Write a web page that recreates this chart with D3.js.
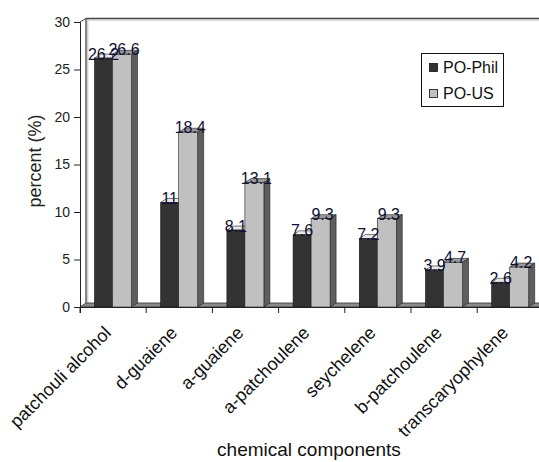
<!DOCTYPE html>
<html>
<head>
<meta charset="utf-8">
<script src="https://cdn.jsdelivr.net/npm/d3@7"></script>
<style>
  body { margin: 0; background: #fff; }
  svg { font-family: "Liberation Sans", Arial, sans-serif; }
</style>
</head>
<body>
<svg id="chart"></svg>
<script>
// data
const components = ["patchouli alcohol", "d-guaiene", "a-guaiene", "a-patchoulene",
  "seychelene", "b-patchoulene", "transcaryophylene"];
const poPhil = [26.2, 11, 8.1, 7.6, 7.2, 3.9, 2.6];
const poUS = [26.6, 18.4, 13.1, 9.3, 9.3, 4.7, 4.2];
const seriesNames = ["PO-Phil", "PO-US"];
const yTicks = [0, 5, 10, 15, 20, 25, 30];

const W = 539, H = 462;
const x0 = 80, yBase = 307, yTop = 22;
const dx = 6, dy = 4;   // 3d depth offset

const svg = d3.select("#chart").attr("width", W).attr("height", H);

const x = d3.scaleBand().domain(components).range([x0, x0 + 7 * 66.2]);
const y = d3.scaleLinear().domain([0, 30]).range([yBase, yTop]);

// back wall + left wall
const wall = svg.append("g");
wall.append("line").attr("x1", x0 + dx).attr("x2", W).attr("y1", yTop - dy + 0.5).attr("y2", yTop - dy + 0.5)
  .attr("stroke", "#444").attr("stroke-width", 1.3);
wall.append("line").attr("x1", x0 + dx + 1).attr("x2", W).attr("y1", yTop - dy + 2).attr("y2", yTop - dy + 2)
  .attr("stroke", "#bbb").attr("stroke-width", 1);
wall.append("line").attr("x1", x0 + dx).attr("x2", x0 + dx).attr("y1", yTop - dy + 0.5).attr("y2", yBase - dy)
  .attr("stroke", "#444").attr("stroke-width", 1.3);
wall.append("line").attr("x1", x0 + dx + 1.8).attr("x2", x0 + dx + 1.8).attr("y1", yTop - dy + 2).attr("y2", yBase - dy)
  .attr("stroke", "#bbb").attr("stroke-width", 1);
wall.append("line").attr("x1", x0).attr("y1", yTop).attr("x2", x0 + dx).attr("y2", yTop - dy + 0.5)
  .attr("stroke", "#444");

// floor
svg.append("polygon")
  .attr("points", [[x0, yBase], [x0 + dx, yBase - dy], [W + 10, yBase - dy], [W + 10, yBase]].join(" "))
  .attr("fill", "#8a8a8a").attr("stroke", "#333").attr("stroke-width", 0.8);

// bars
const darkOff = 14.5, darkW = 18, lightW = 19;
const bars = svg.append("g");
components.forEach((c, i) => {
  const bx = x(c) + darkOff;
  const yd = y(poPhil[i]), yl = y(poUS[i]);
  // dark bar
  bars.append("polygon")
    .attr("points", [[bx, yd], [bx + dx, yd - dy], [bx + darkW + dx, yd - dy], [bx + darkW, yd]].join(" "))
    .attr("fill", "#e8e8e8").attr("stroke", "#222").attr("stroke-width", 0.6);
  bars.append("rect").attr("x", bx).attr("y", yd).attr("width", darkW).attr("height", yBase - yd)
    .attr("fill", "#333").attr("stroke", "#111").attr("stroke-width", 0.6);
  // light bar
  const lx = bx + darkW;
  bars.append("polygon")
    .attr("points", [[lx, yl], [lx + dx, yl - dy], [lx + lightW + dx, yl - dy], [lx + lightW, yl]].join(" "))
    .attr("fill", "#9a9a9a").attr("stroke", "#222").attr("stroke-width", 0.6);
  bars.append("polygon")
    .attr("points", [[lx + lightW, yl], [lx + lightW + dx, yl - dy], [lx + lightW + dx, yBase - dy], [lx + lightW, yBase]].join(" "))
    .attr("fill", "#5e5e5e").attr("stroke", "#222").attr("stroke-width", 0.6);
  bars.append("rect").attr("x", lx).attr("y", yl).attr("width", lightW).attr("height", yBase - yl)
    .attr("fill", "#c0c0c0").attr("stroke", "#222").attr("stroke-width", 0.6);
});

// value labels
const lab = svg.append("g").attr("font-size", 16).attr("fill", "#111133").attr("text-anchor", "middle");
components.forEach((c, i) => {
  const bx = x(c) + darkOff;
  lab.append("text").attr("x", bx + darkW / 2).attr("y", y(poPhil[i]) + 1.5).text(poPhil[i]);
  lab.append("text").attr("x", bx + darkW + lightW / 2 + 2).attr("y", y(poUS[i]) + 1).text(poUS[i]);
});

// axes
const yAxis = svg.append("g").attr("transform", `translate(${x0},0)`)
  .call(d3.axisLeft(y).tickValues(yTicks).tickSize(6).tickPadding(4));
yAxis.select(".domain").attr("stroke", "#222");
yAxis.selectAll(".tick line").attr("stroke", "#222");
yAxis.selectAll("text").attr("font-size", 14).attr("fill", "#222").attr("font-family", "Liberation Sans, Arial, sans-serif");

const xAxis = svg.append("g").attr("transform", `translate(0,${yBase})`)
  .call(d3.axisBottom(x).tickSize(6).tickFormat(""));
xAxis.select(".domain").attr("stroke", "#222");
xAxis.selectAll(".tick line").attr("stroke", "#222")
  .attr("transform", function () { return `translate(${-x.bandwidth() / 2},0)`; });

// rotated category labels
svg.append("g").selectAll("text").data(components).join("text")
  .attr("transform", d => `translate(${x(d) + x.bandwidth() / 2 - 1},${yBase + 27}) rotate(-45)`)
  .attr("text-anchor", "end").attr("font-size", 18).attr("fill", "#111")
  .text(d => d);

// axis titles
svg.append("text").attr("transform", `translate(41,161) rotate(-90)`)
  .attr("text-anchor", "middle").attr("font-size", 18).attr("fill", "#222").text("percent (%)");
svg.append("text").attr("x", 309).attr("y", 456).attr("text-anchor", "middle")
  .attr("font-size", 19).attr("fill", "#111").text("chemical components");

// legend
const leg = svg.append("g");
leg.append("rect").attr("x", 421.5).attr("y", 53.5).attr("width", 82).attr("height", 53)
  .attr("fill", "#fff").attr("stroke", "#111").attr("stroke-width", 1);
const legColors = ["#333", "#c0c0c0"];
seriesNames.forEach((s, i) => {
  const ly = 72.5 + i * 26;
  leg.append("rect").attr("x", 429.5).attr("y", ly - 9).attr("width", 8).attr("height", 8)
    .attr("fill", legColors[i]).attr("stroke", "#111").attr("stroke-width", 0.8);
  leg.append("text").attr("x", 443).attr("y", ly).attr("font-size", 16).attr("fill", "#111").text(s);
});
</script>
</body>
</html>
